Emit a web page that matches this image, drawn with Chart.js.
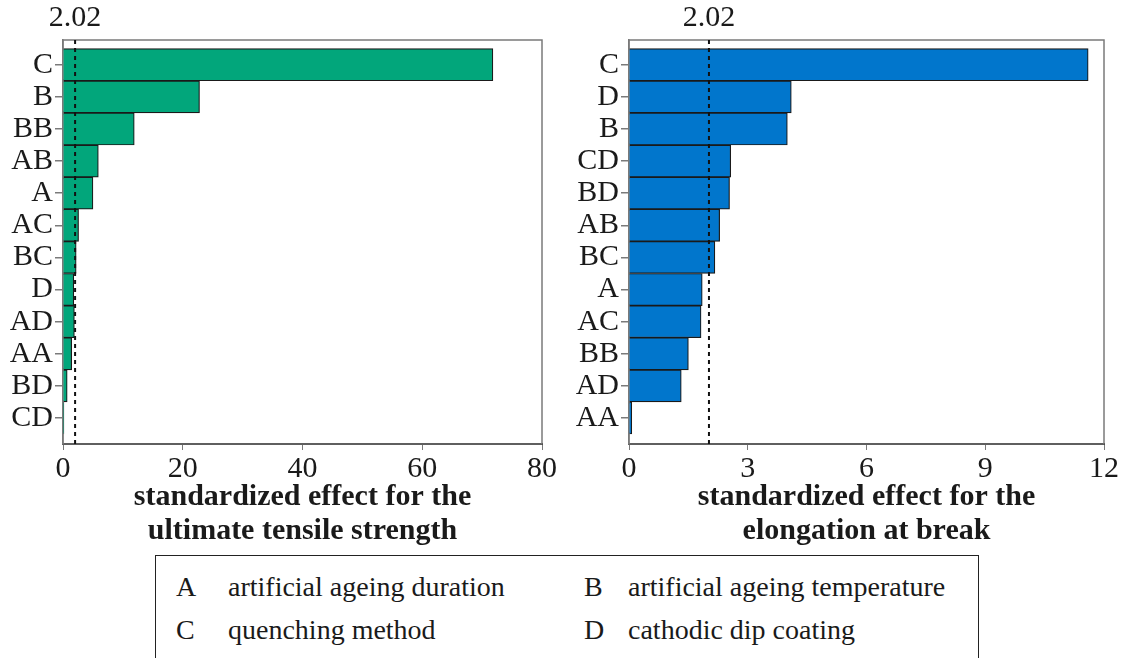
<!DOCTYPE html>
<html>
<head>
<meta charset="utf-8">
<script src="https://cdn.jsdelivr.net/npm/chart.js@4.4.0/dist/chart.umd.min.js"></script>
<style>
  body { margin: 0; background: #fff; }
  #wrap { position: relative; width: 1126px; height: 658px; overflow: hidden; font-family: 'Liberation Serif', 'Times New Roman', serif; color: #1a1a1a; }
  .box { position: absolute; }
  #legend { position: absolute; left: 155px; top: 555px; width: 822px; height: 120px; border: 1px solid #222; font-size: 28px; }
  #legend span { position: absolute; white-space: nowrap; }
</style>
</head>
<body>
<div id="wrap">
  <div class="box" style="left:0;top:0;width:563px;height:550px"><canvas id="uts-chart"></canvas></div>
  <div class="box" style="left:563px;top:0;width:563px;height:550px"><canvas id="eab-chart"></canvas></div>
  <div id="legend">
    <span style="left:20px;top:15px">A</span><span style="left:72px;top:15px">artificial ageing duration</span>
    <span style="left:428px;top:15px">B</span><span style="left:472px;top:15px">artificial ageing temperature</span>
    <span style="left:20px;top:58px">C</span><span style="left:72px;top:58px">quenching method</span>
    <span style="left:428px;top:58px">D</span><span style="left:472px;top:58px">cathodic dip coating</span>
  </div>
</div>
<script>
// Pareto of standardized effects
const utsTerms = ['C', 'B', 'BB', 'AB', 'A', 'AC', 'BC', 'D', 'AD', 'AA', 'BD', 'CD'];
const utsEffects = [71.8, 22.8, 11.9, 5.9, 5.0, 2.6, 2.2, 1.8, 1.9, 1.45, 0.7, 0.15];

const eabTerms = ['C', 'D', 'B', 'CD', 'BD', 'AB', 'BC', 'A', 'AC', 'BB', 'AD', 'AA'];
const eabEffects = [11.6, 4.1, 4.0, 2.57, 2.54, 2.29, 2.17, 1.85, 1.82, 1.5, 1.32, 0.07];

const critValue = 2.02;

Chart.defaults.font.family = "'Liberation Serif', 'Times New Roman', serif";
Chart.defaults.color = '#1a1a1a';

// frame round the plot + dashed critical line
const framePlugin = {
  id: 'frame',
  beforeDatasetsDraw(chart) {
    const a = chart.chartArea;
    const ctx = chart.ctx;
    ctx.save();
    ctx.strokeStyle = '#7a7a7a';
    ctx.lineWidth = 1.5;
    ctx.strokeRect(a.left, a.top, a.right - a.left, a.bottom - a.top);
    ctx.restore();
  },
  afterDatasetsDraw(chart) {
    const a = chart.chartArea;
    const ctx = chart.ctx;
    const x = chart.scales.x.getPixelForValue(critValue);
    ctx.save();
    ctx.strokeStyle = '#111';
    ctx.lineWidth = 2;
    ctx.setLineDash([4, 4]);
    ctx.beginPath();
    ctx.moveTo(x, a.top);
    ctx.lineTo(x, a.bottom);
    ctx.stroke();
    ctx.restore();
  }
};

function createParetoChart(id, terms, effects, color, xMax, step, title, yWidth, padRight) {
  new Chart(document.getElementById(id), {
    type: 'bar',
    plugins: [framePlugin],
    data: {
      datasets: [{
        data: effects.map((v, i) => ({ x: v, y: i })),
        backgroundColor: color,
        borderColor: '#1a1a1a',
        borderWidth: 1.2,
        categoryPercentage: 1,
        barPercentage: 1
      }]
    },
    options: {
      indexAxis: 'y',
      animation: false,
      responsive: true,
      maintainAspectRatio: false,
      layout: { padding: { left: 0, right: padRight, top: 0, bottom: 0 } },
      plugins: { legend: { display: false }, tooltip: { enabled: false } },
      scales: {
        x: {
          type: 'linear',
          position: 'bottom',
          min: 0,
          max: xMax,
          ticks: { stepSize: step, font: { size: 30 }, padding: 1, maxRotation: 0 },
          grid: { drawOnChartArea: false, tickLength: 6, color: '#7a7a7a' },
          border: { color: '#111', width: 2 },
          title: { display: true, text: title, font: { size: 30, weight: 'bold', lineHeight: 1.13 }, padding: { top: 0, bottom: 2 } },
          afterFit: s => { s.height = 106; }
        },
        x2: {
          type: 'linear',
          position: 'top',
          min: 0,
          max: xMax,
          afterBuildTicks: s => { s.ticks = [{ value: critValue }]; },
          ticks: { font: { size: 30 }, padding: 4, callback: v => v.toFixed(2) },
          grid: { display: false, drawTicks: false },
          border: { display: false },
          afterFit: s => { s.height = 40; }
        },
        y: {
          type: 'linear',
          reverse: true,
          offset: false,
          min: -0.77,
          max: 11.81,
          afterBuildTicks: s => { s.ticks = terms.map((_, i) => ({ value: i })); },
          ticks: { font: { size: 30 }, padding: 2, autoSkip: false, callback: v => terms[v] },
          grid: { offset: false, drawOnChartArea: false, tickLength: 8, color: '#7a7a7a', lineWidth: 1.5 },
          border: { color: '#7a7a7a', width: 1.5 },
          afterFit: s => { s.width = yWidth; }
        }
      }
    }
  });
}

createParetoChart('uts-chart', utsTerms, utsEffects, '#02a67b', 80, 20,
  ['standardized effect for the', 'ultimate tensile strength'], 63, 21);
createParetoChart('eab-chart', eabTerms, eabEffects, '#0176cc', 12, 3,
  ['standardized effect for the', 'elongation at break'], 66, 22);
</script>
</body>
</html>
